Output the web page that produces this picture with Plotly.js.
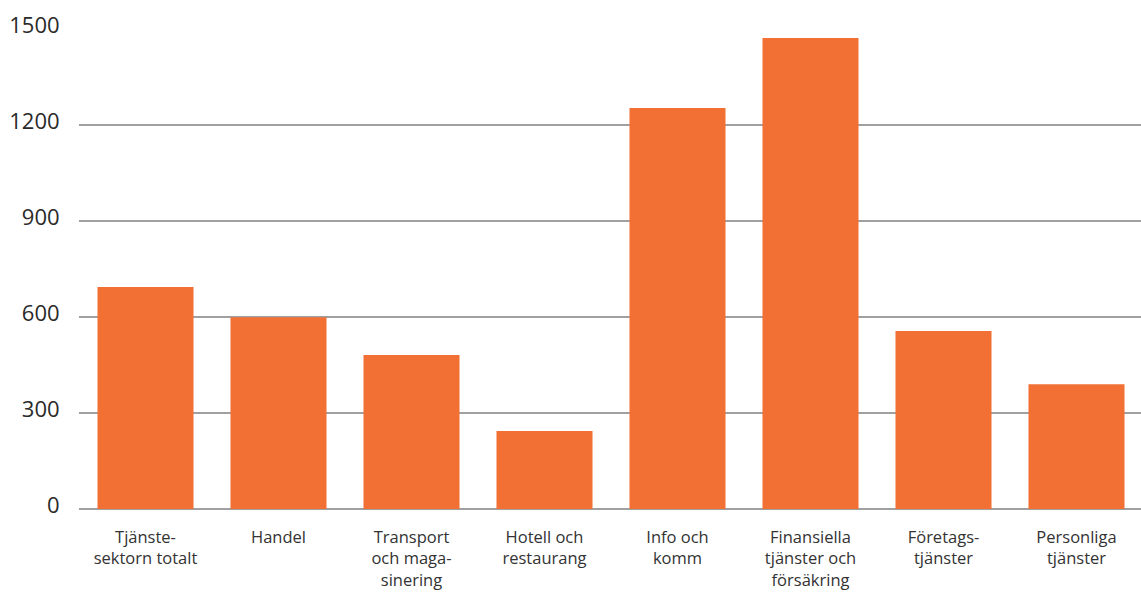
<!DOCTYPE html>
<html>
<head>
<meta charset="utf-8">
<script src="https://cdn.plot.ly/plotly-3.0.1.min.js"></script>
<style>
html,body{margin:0;padding:0;background:#fff;}
#chart{width:1141px;height:592px;}
</style>
</head>
<body>
<div id="chart"></div>
<script>
const categories = [
  "Tjänste-<br>sektorn totalt",
  "Handel",
  "Transport<br>och maga-<br>sinering",
  "Hotell och<br>restaurang",
  "Info och<br>komm",
  "Finansiella<br>tjänster och<br>försäkring",
  "Företags-<br>tjänster",
  "Personliga<br>tjänster"
];
const values = [694, 599, 481, 244, 1253, 1472, 556, 390];
const yTicks = [0, 300, 600, 900, 1200, 1500];

const trace = {
  type: "bar",
  x: categories.map((c, i) => i),
  y: values,
  marker: {color: "#F27033"},
  hoverinfo: "skip"
};

const layout = {
  width: 1141,
  height: 592,
  margin: {l: 79, r: 0, t: 29, b: 83},
  paper_bgcolor: "#fff",
  plot_bgcolor: "#fff",
  showlegend: false,
  bargap: 0.278,
  font: {family: "'Open Sans', sans-serif", color: "#333333"},
  xaxis: {
    range: [-0.5, 7.485],
    tickmode: "array",
    tickvals: categories.map((c, i) => i),
    ticktext: categories,
    tickfont: {size: 16.5, color: "#333333"},
    showgrid: false,
    zeroline: false,
    showline: false,
    ticks: "outside",
    ticklen: 13,
    tickcolor: "rgba(0,0,0,0)",
    tickangle: 0,
    fixedrange: true
  },
  yaxis: {
    range: [0, 1500],
    tickmode: "array",
    tickvals: yTicks,
    ticktext: yTicks.map(String),
    tickfont: {size: 22, color: "#2a2a2a"},
    showgrid: true,
    gridcolor: "#a0a0a0",
    gridwidth: 2,
    zeroline: true,
    zerolinecolor: "#a0a0a0",
    zerolinewidth: 2,
    showline: false,
    ticks: "outside",
    ticklen: 14,
    tickcolor: "rgba(0,0,0,0)",
    ticklabelshift: -4,
    fixedrange: true
  }
};

Plotly.newPlot("chart", [trace], layout, {displayModeBar: false, staticPlot: true});
</script>
</body>
</html>
